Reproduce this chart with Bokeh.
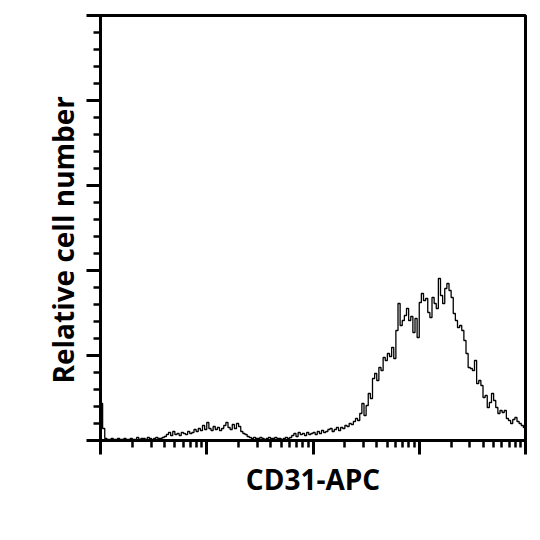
from bokeh.plotting import figure
from bokeh.models import FixedTicker, Range1d, CustomJSTickFormatter, Title
from bokeh.embed import file_html
from bokeh.resources import INLINE

# Histogram of CD31-APC fluorescence: 200 log-spaced channels over 4 decades (10^0 .. 10^4)
counts = [
    37, 12, 2, 1, 1, 2, 1, 1, 2, 1,
    1, 2, 1, 1, 2, 1, 1, 3, 1, 2,
    2, 1, 3, 2, 1, 2, 3, 2, 2, 3,
    4, 6, 8, 5, 9, 6, 7, 5, 8, 7,
    6, 9, 7, 8, 11, 9, 12, 10, 15, 11,
    18, 12, 10, 14, 11, 13, 10, 12, 15, 18,
    13, 11, 16, 12, 17, 14, 9, 7, 6, 4,
    3, 2, 3, 2, 2, 3, 2, 1, 2, 3,
    2, 2, 3, 2, 2, 1, 2, 3, 2, 3,
    5, 7, 4, 8, 6, 7, 5, 8, 6, 7,
    8, 6, 9, 7, 10, 8, 9, 11, 12, 9,
    11, 13, 10, 13, 12, 15, 14, 17, 16, 19,
    22, 20, 27, 37, 25, 35, 47, 42, 62, 67,
    60, 73, 70, 83, 80, 87, 84, 93, 82, 110,
    137, 115, 120, 125, 132, 120, 124, 108, 122, 103,
    138, 147, 140, 142, 128, 123, 143, 137, 132, 162,
    145, 137, 152, 157, 150, 143, 127, 120, 113, 115,
    110, 100, 87, 73, 72, 70, 80, 57, 60, 55,
    43, 45, 33, 38, 47, 40, 33, 27, 30, 28,
    30, 22, 20, 17, 21, 23, 19, 17, 15, 13,
]
decades = [0, 1, 2, 3, 4]
y_major = [0, 85, 170, 255, 340, 425]

n_bins = len(counts)
span = decades[-1] - decades[0]
edges = [10 ** (decades[0] + span * i / n_bins) for i in range(n_bins + 1)]
ys = counts + [counts[-1]]

p = figure(width=535, height=535, output_backend="svg", toolbar_location=None,
           x_axis_type="log",
           x_range=Range1d(10 ** decades[0], 10 ** decades[-1]),
           y_range=Range1d(y_major[0], y_major[-1]),
           min_border_left=100, min_border_right=10, min_border_top=15, min_border_bottom=95)

p.step(edges, ys, mode="after", line_color="black", line_width=1.3)

p.grid.visible = False
p.outline_line_color = "black"
p.outline_line_width = 3
p.background_fill_color = "white"
p.border_fill_color = "white"

x_minor = [k * 10 ** d for d in decades[:-1] for k in range(2, 10)]
p.xaxis.ticker = FixedTicker(ticks=[10 ** d for d in decades], minor_ticks=x_minor)
y_minor = [v for v in range(0, 426, 17) if v not in y_major]
p.yaxis.ticker = FixedTicker(ticks=y_major, minor_ticks=y_minor)

blank = CustomJSTickFormatter(code="return '';")
for ax in (p.xaxis[0], p.yaxis[0]):
    ax.formatter = blank
    ax.axis_line_width = 3
    ax.axis_line_color = "black"
    ax.major_tick_line_width = 3
    ax.major_tick_line_color = "black"
    ax.minor_tick_line_width = 2.5
    ax.minor_tick_line_color = "black"
    ax.major_tick_out = 14
    ax.major_tick_in = 0
    ax.minor_tick_out = 7
    ax.minor_tick_in = 0
    ax.major_label_standoff = 0
    ax.axis_label_text_font = "Open Sans"
    ax.axis_label_text_font_style = "bold"
    ax.axis_label_text_font_size = "28px"
    ax.axis_label_text_color = "black"

p.xaxis.axis_label = "CD31-APC"
p.xaxis.axis_label_standoff = 5

ylab = Title(text="Relative cell number", align="left", offset=57,
             text_font="Open Sans", text_font_style="bold", text_font_size="28px",
             text_color="black", standoff=10)
p.add_layout(ylab, "left")

open("out.html", "w").write(file_html(p, INLINE))
